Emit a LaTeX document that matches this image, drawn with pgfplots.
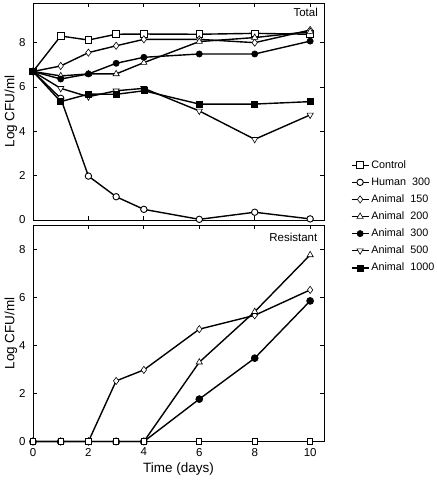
\documentclass[border=0pt]{standalone}
\usepackage{fontspec}
\setmainfont{Liberation Sans}
\usepackage{pgfplots}
\pgfplotsset{compat=1.18}

\pgfplotstableread{
x y
0 6.7
1 8.30
2 8.12
3 8.38
4 8.39
6 8.38
8 8.42
10 8.38
}\topctrl
\pgfplotstableread{
x y
0 6.7
1 5.49
2 1.98
3 1.05
4 0.48
6 0.03
8 0.35
10 0.05
}\tophum
\pgfplotstableread{
x y
0 6.7
1 6.95
2 7.55
3 7.86
4 8.15
6 8.15
8 8.00
10 8.57
}\topa
\pgfplotstableread{
x y
0 6.7
1 6.50
2 6.59
3 6.59
4 7.10
6 8.05
8 8.23
10 8.50
}\topb
\pgfplotstableread{
x y
0 6.7
1 6.36
2 6.59
3 7.07
4 7.34
6 7.49
8 7.49
10 8.07
}\topc
\pgfplotstableread{
x y
0 6.7
1 5.94
2 5.56
3 5.83
4 5.94
6 4.92
8 3.64
10 4.74
}\topd
\pgfplotstableread{
x y
0 6.7
1 5.34
2 5.68
3 5.67
4 5.83
6 5.23
8 5.23
10 5.34
}\tope

\pgfplotstableread{
x y
0 0
1 0
2 0
3 0
4 0
6 0
8 0
10 0
}\botzero
\pgfplotstableread{
x y
0 0
1 0
2 0
3 2.53
4 2.99
6 4.69
8 5.27
10 6.33
}\bota
\pgfplotstableread{
x y
0 0
1 0
2 0
3 0
4 0
6 3.31
8 5.42
10 7.79
}\botb
\pgfplotstableread{
x y
0 0
1 0
2 0
3 0
4 0
6 1.77
8 3.48
10 5.87
}\botc

\pgfplotsset{
 panel/.style={
  scale only axis, width=291bp,
  xmin=0, xmax=10.5, ymin=0,
  xtick={0,2,4,6,8,10}, ytick={0,2,4,6,8},
  tick align=inside, major tick length=4bp,
  axis line style={line width=0.9bp},
  every tick/.style={black, line width=0.9bp},
  tick label style={font=\fontsize{11.5bp}{13bp}\selectfont},
  /pgf/number format/assume math mode=true,
  label style={font=\fontsize{13.5bp}{15bp}\selectfont},
  yticklabel style={xshift=-4bp},
  xticklabel style={yshift=-3bp},
  ylabel={Log CFU/ml},
  ylabel style={at={(axis description cs:-0.076,0.5)}, anchor=center, rotate=0},
  clip=false,
 },
 sctrl/.style={black, line width=1.4bp, mark=square*, mark size=3.3bp, mark options={fill=white, line width=0.9bp}},
 shum/.style={black, line width=1.4bp, mark=*, mark size=3.2bp, mark options={fill=white, line width=0.9bp}},
 sa/.style={black, line width=1.4bp, mark=diamond*, mark size=3.6bp, mark options={fill=white, line width=0.6bp}},
 sb/.style={black, line width=1.4bp, mark=triangle*, mark size=3.6bp, mark options={fill=white, line width=0.6bp}},
 sc/.style={black, line width=1.4bp, mark=*, mark size=3.1bp, mark options={fill=black, line width=0.6bp}},
 sd/.style={black, line width=1.4bp, mark=triangle*, mark size=3.6bp, mark options={fill=white, rotate=180, line width=0.6bp}},
 se/.style={black, line width=1.4bp, mark=square*, mark size=3.0bp, mark options={fill=black, line width=0.6bp}},
}

\begin{document}
\begin{tikzpicture}
\useasboundingbox (0,0) rectangle (437bp,480bp);

\begin{axis}[panel,
  at={(33bp,260bp)}, anchor=south west, height=217bp,
  ymax=9.79, xticklabels={},
  legend style={at={(axis description cs:1.0918,0.016)}, anchor=west,
    draw=none, fill=none, inner sep=0pt, row sep=7.1bp,
    font=\fontsize{10.8bp}{12bp}\selectfont,
    cells={anchor=west},
    nodes={inner xsep=2bp, inner ysep=0pt, text height=8bp, text depth=2bp}},
]
\addplot[sctrl] table[x=x,y=y]{\topctrl};
\addlegendentry{Control}
\addplot[shum] table[x=x,y=y]{\tophum};
\addlegendentry{Human\ \ 300}
\addplot[sa] table[x=x,y=y]{\topa};
\addlegendentry{Animal\ \ 150}
\addplot[sb] table[x=x,y=y]{\topb};
\addlegendentry{Animal\ \ 200}
\addplot[sc] table[x=x,y=y]{\topc};
\addlegendentry{Animal\ \ 300}
\addplot[sd] table[x=x,y=y]{\topd};
\addlegendentry{Animal\ \ 500}
\addplot[se] table[x=x,y=y]{\tope};
\addlegendentry{Animal\ \ 1000}
\node[anchor=north east, inner sep=0pt, font=\fontsize{11.5bp}{13bp}\selectfont]
  at (rel axis cs:1,1) [xshift=-6bp, yshift=-5bp] {Total};
\end{axis}

\begin{axis}[panel,
  at={(33bp,38.5bp)}, anchor=south west, height=216.5bp,
  ymax=9.04,
  xlabel={Time (days)},
  xlabel style={at={(axis description cs:0.5,-0.127)}, anchor=center},
]
\addplot[sa] table[x=x,y=y]{\bota};
\addplot[sb] table[x=x,y=y]{\botb};
\addplot[sc, mark size=3.5bp] table[x=x,y=y]{\botc};
\addplot[se, mark size=2.4bp] table[x=x,y=y]{\botzero};
\addplot[sd, mark size=2.6bp] table[x=x,y=y]{\botzero};
\addplot[shum, mark size=2.4bp] table[x=x,y=y]{\botzero};
\addplot[sctrl, mark size=2.6bp] table[x=x,y=y]{\botzero};
\node[anchor=north east, inner sep=0pt, font=\fontsize{11.5bp}{13bp}\selectfont]
  at (rel axis cs:1,1) [xshift=-6.5bp, yshift=-7.5bp] {Resistant};
\end{axis}
\end{tikzpicture}
\end{document}
